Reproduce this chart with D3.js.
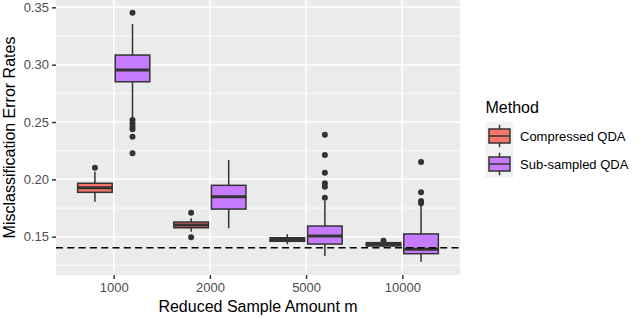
<!DOCTYPE html>
<html>
<head>
<meta charset="utf-8">
<script src="https://cdn.jsdelivr.net/npm/d3@7"></script>
<style>
  body { margin: 0; background: #fff; }
  svg { display: block; font-family: "Liberation Sans", Arial, sans-serif; }
</style>
</head>
<body>
<svg id="chart" width="640" height="317"></svg>
<script>
// sample sizes (x categories) and methods (fill)
const sampleSizes = ["1000", "2000", "5000", "10000"];
const methods = ["Compressed QDA", "Sub-sampled QDA"];
const methodColors = ["#F8766D", "#C77CFF"];

// [lower whisker, q1, median, q3, upper whisker] per sample size
const compressedBoxes = [
    [0.1805, 0.1887, 0.1927, 0.1966, 0.2067],
    [0.1544, 0.1578, 0.1602, 0.1628, 0.1660],
    [0.1434, 0.1460, 0.1476, 0.1491, 0.1521],
    [0.1410, 0.1419, 0.1433, 0.1448, 0.1455]
];
const compressedOutliers = [
    [0.2102],
    [0.1709, 0.1495],
    [],
    [0.1465]
];
const subsampledBoxes = [
    [0.2535, 0.2851, 0.2953, 0.3084, 0.3354],
    [0.1573, 0.1741, 0.1849, 0.1948, 0.2169],
    [0.1332, 0.1436, 0.1506, 0.1593, 0.1811],
    [0.1282, 0.1352, 0.1390, 0.1524, 0.1776]
];
const subsampledOutliers = [
    [0.3453, 0.2517, 0.2489, 0.2459, 0.2436, 0.2372, 0.2227],
    [],
    [0.2389, 0.2212, 0.2058, 0.1966, 0.1936, 0.1840],
    [0.2151, 0.1887, 0.1811, 0.1791]
];
const fullDataError = 0.1404;

const yTicks = [0.15, 0.20, 0.25, 0.30, 0.35];
const yMinorTicks = [0.125, 0.175, 0.225, 0.275, 0.325];

const svg = d3.select("#chart");
const panel = { left: 56, right: 460, top: 0, bottom: 275 };

const x = d3.scalePoint()
    .domain(sampleSizes)
    .range([panel.left, panel.right])
    .padding(0.6);

const step = x.step();
const xInner = d3.scaleBand()
    .domain(methods)
    .range([-0.375 * step, 0.375 * step])
    .paddingInner(0.08);

const y = d3.scaleLinear()
    .domain([0.1166, 0.3564])
    .range([panel.bottom, panel.top]);

// panel background + grid
svg.append("rect")
    .attr("x", panel.left)
    .attr("y", panel.top)
    .attr("width", panel.right - panel.left)
    .attr("height", panel.bottom - panel.top)
    .attr("fill", "#EBEBEB");

svg.selectAll(".minor-grid")
    .data(yMinorTicks)
    .enter()
    .append("line")
    .attr("x1", panel.left)
    .attr("x2", panel.right)
    .attr("y1", d => y(d))
    .attr("y2", d => y(d))
    .attr("stroke", "#fff")
    .attr("stroke-width", 0.75);

svg.selectAll(".major-grid-y")
    .data(yTicks)
    .enter()
    .append("line")
    .attr("x1", panel.left)
    .attr("x2", panel.right)
    .attr("y1", d => y(d))
    .attr("y2", d => y(d))
    .attr("stroke", "#fff")
    .attr("stroke-width", 1.5);

svg.selectAll(".major-grid-x")
    .data(sampleSizes)
    .enter()
    .append("line")
    .attr("x1", d => x(d))
    .attr("x2", d => x(d))
    .attr("y1", panel.top)
    .attr("y2", panel.bottom)
    .attr("stroke", "#fff")
    .attr("stroke-width", 1.5);

// axes
const yAxis = svg.append("g")
    .attr("transform", `translate(${panel.left},0)`)
    .call(d3.axisLeft(y).tickValues(yTicks).tickFormat(d3.format(".2f")).tickSize(4).tickPadding(3));
const xAxis = svg.append("g")
    .attr("transform", `translate(0,${panel.bottom})`)
    .call(d3.axisBottom(x).tickSize(4).tickPadding(4));

[yAxis, xAxis].forEach(ax => {
    ax.select(".domain").remove();
    ax.selectAll(".tick line").attr("stroke", "#333333").attr("stroke-width", 1.5);
    ax.selectAll(".tick text")
        .attr("fill", "#4D4D4D")
        .style("font-size", "13px")
        .style("font-family", "Liberation Sans, Arial, sans-serif");
});

// boxplots
const series = [
    { method: methods[0], color: methodColors[0], boxes: compressedBoxes, outliers: compressedOutliers },
    { method: methods[1], color: methodColors[1], boxes: subsampledBoxes, outliers: subsampledOutliers }
];

series.forEach(s => {
    const g = svg.append("g").attr("class", "series");
    const bw = xInner.bandwidth();
    s.boxes.forEach((b, i) => {
        const cx = x(sampleSizes[i]) + xInner(s.method) + bw / 2;
        const [lo, q1, med, q3, hi] = b;
        g.append("line")
            .attr("x1", cx).attr("x2", cx)
            .attr("y1", y(hi)).attr("y2", y(q3))
            .attr("stroke", "#333333").attr("stroke-width", 1.5);
        g.append("line")
            .attr("x1", cx).attr("x2", cx)
            .attr("y1", y(q1)).attr("y2", y(lo))
            .attr("stroke", "#333333").attr("stroke-width", 1.5);
        g.append("rect")
            .attr("x", cx - bw / 2)
            .attr("y", y(q3))
            .attr("width", bw)
            .attr("height", y(q1) - y(q3))
            .attr("fill", s.color)
            .attr("stroke", "#333333")
            .attr("stroke-width", 1.5);
        g.append("line")
            .attr("x1", cx - bw / 2).attr("x2", cx + bw / 2)
            .attr("y1", y(med)).attr("y2", y(med))
            .attr("stroke", "#333333").attr("stroke-width", 3);
        g.selectAll(".outlier-" + i)
            .data(s.outliers[i])
            .enter()
            .append("circle")
            .attr("cx", cx)
            .attr("cy", d => y(d))
            .attr("r", 3)
            .attr("fill", "#333333");
    });
});

// reference line
svg.append("line")
    .attr("x1", panel.left)
    .attr("x2", panel.right)
    .attr("y1", y(fullDataError))
    .attr("y2", y(fullDataError))
    .attr("stroke", "#000")
    .attr("stroke-width", 1.6)
    .attr("stroke-dasharray", "7,4.3");

// axis titles
svg.append("text")
    .attr("x", (panel.left + panel.right) / 2)
    .attr("y", 311.5)
    .attr("text-anchor", "middle")
    .style("font-size", "16px")
    .text("Reduced Sample Amount m");

svg.append("text")
    .attr("transform", `translate(15,${(panel.top + panel.bottom) / 2}) rotate(-90)`)
    .attr("text-anchor", "middle")
    .style("font-size", "16px")
    .text("Misclassification Error Rates");

// legend
const legend = svg.append("g").attr("class", "legend");
legend.append("text")
    .attr("x", 485.5)
    .attr("y", 113)
    .style("font-size", "16px")
    .text("Method");

const keySize = 28;
methods.forEach((m, i) => {
    const k = legend.append("g").attr("transform", `translate(485.5,${122 + i * keySize})`);
    k.append("rect")
        .attr("width", keySize).attr("height", keySize)
        .attr("fill", "#F2F2F2");
    k.append("line")
        .attr("x1", keySize / 2).attr("x2", keySize / 2)
        .attr("y1", keySize * 0.1).attr("y2", keySize * 0.9)
        .attr("stroke", "#333333").attr("stroke-width", 1.5);
    k.append("rect")
        .attr("x", keySize * 0.125).attr("y", keySize * 0.25)
        .attr("width", keySize * 0.75).attr("height", keySize * 0.5)
        .attr("fill", methodColors[i])
        .attr("stroke", "#333333").attr("stroke-width", 1.5);
    k.append("line")
        .attr("x1", keySize * 0.125).attr("x2", keySize * 0.875)
        .attr("y1", keySize / 2).attr("y2", keySize / 2)
        .attr("stroke", "#333333").attr("stroke-width", 1.5);
    legend.append("text")
        .attr("x", 520)
        .attr("y", 122 + i * keySize + keySize / 2)
        .attr("dy", "0.35em")
        .style("font-size", "13px")
        .text(m);
});
</script>
</body>
</html>
